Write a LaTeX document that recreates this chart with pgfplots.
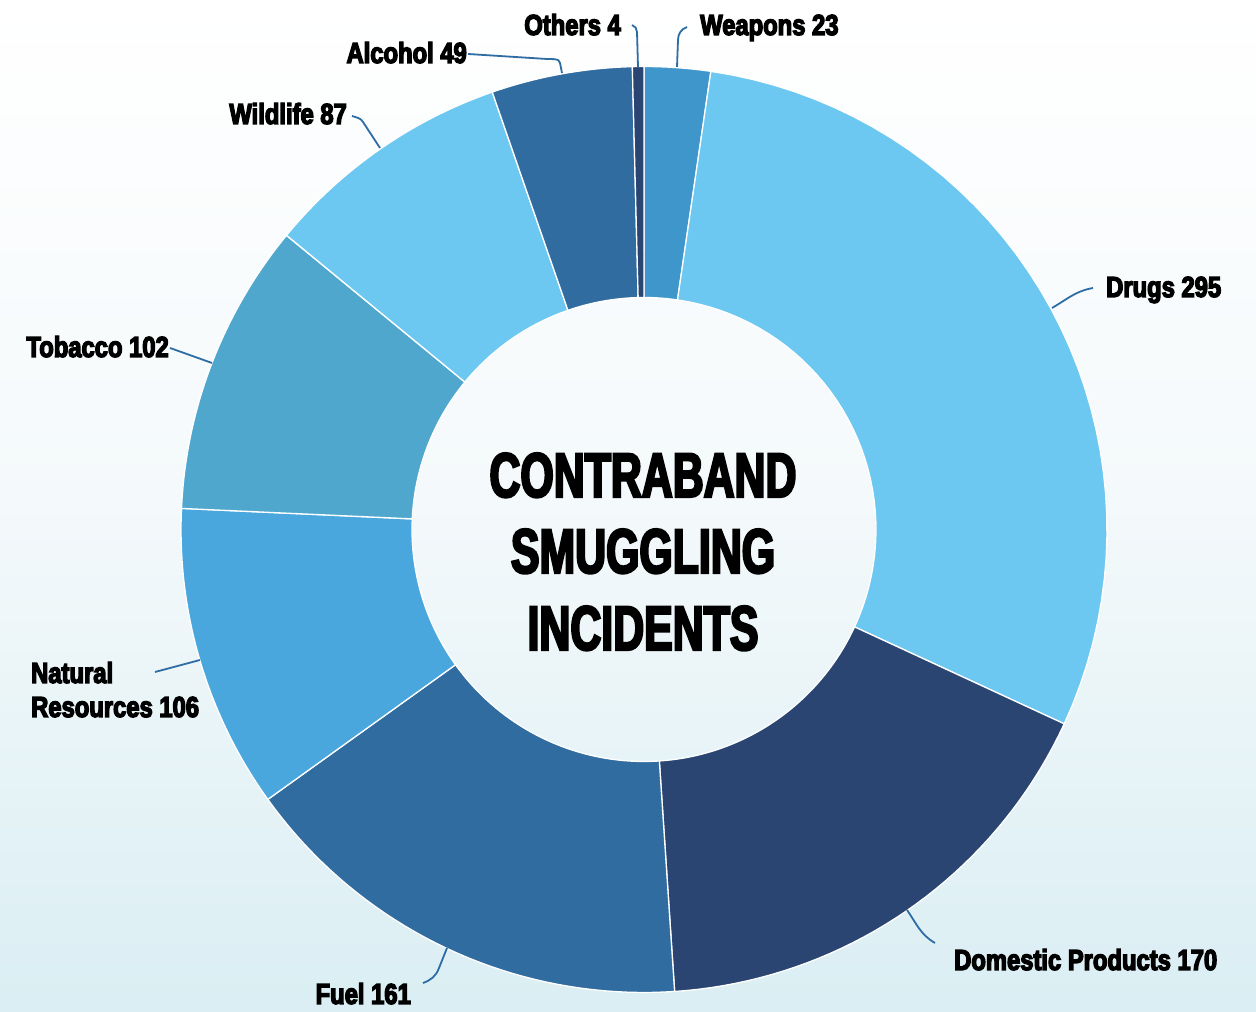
\documentclass[border=0pt]{standalone}
\usepackage{pgfplots}
\pgfplotsset{compat=1.18}
\usepackage{fontspec}
\setmainfont{Liberation Sans}
\newfontfamily\labelfont{Liberation Sans}[UprightFont={* Bold}, FakeStretch=0.82, FakeBold=4.5]
\newfontfamily\titlefont{Liberation Sans}[UprightFont={* Bold}, FakeStretch=0.68, FakeBold=3.5]
\definecolor{cWeap}{HTML}{3F96CB}
\definecolor{cDrug}{HTML}{6DC8F1}
\definecolor{cDom}{HTML}{2A4572}
\definecolor{cFuel}{HTML}{306CA0}
\definecolor{cNat}{HTML}{4AA7DE}
\definecolor{cTob}{HTML}{50A7CE}
\definecolor{cWild}{HTML}{6DC8F1}
\definecolor{cAlc}{HTML}{306CA0}
\definecolor{cOth}{HTML}{2A4572}
\definecolor{cLine}{HTML}{2E6DA4}
\definecolor{bgBottom}{RGB}{218,238,243}
% #1 = cumulative value before the slice, #2 = value, #3 = colour
\newcommand{\slice}[3]{%
  \addplot[fill=#3, draw=white, line width=1.3pt, domain=0:82, samples=83, variable=\t]
  ({644+(\t<40.5 ? 463 : (\t<81.5 ? 232 : 463))*cos(\t<40.5 ? (90-360*(#1)/997-360*(#2)/997*\t/40) : (\t<81.5 ? (90-360*(#1+#2)/997+360*(#2)/997*(\t-41)/40) : (90-360*(#1)/997)))},
   {482.5+(\t<40.5 ? 463 : (\t<81.5 ? 232 : 463))*sin(\t<40.5 ? (90-360*(#1)/997-360*(#2)/997*\t/40) : (\t<81.5 ? (90-360*(#1+#2)/997+360*(#2)/997*(\t-41)/40) : (90-360*(#1)/997)))});
}
\newcommand{\lab}[3]{\node[anchor=base #1, inner sep=0pt, font=\labelfont\fontsize{29}{34}\selectfont] at (axis cs:#2) {#3};}
\begin{document}
\begin{tikzpicture}
\fill[top color=white, bottom color=bgBottom, middle color={rgb,255:red,244;green,249;blue,251}] (0,0) rectangle (1256pt,1012pt);
\begin{axis}[
  at={(0,0)}, anchor=south west,
  width=1256pt, height=1012pt, scale only axis,
  xmin=0, xmax=1256, ymin=0, ymax=1012,
  hide axis, clip=false]
% values: Weapons 23, Drugs 295, Domestic Products 170, Fuel 161, Natural Resources 106,
% Tobacco 102, Wildlife 87, Alcohol 49, Others 4 (total 997)
\slice{0}{23}{cWeap}
\slice{23}{295}{cDrug}
\slice{318}{170}{cDom}
\slice{488}{161}{cFuel}
\slice{649}{106}{cNat}
\slice{755}{102}{cTob}
\slice{857}{87}{cWild}
\slice{944}{49}{cAlc}
\slice{993}{4}{cOth}
% leader lines (y = 1012 - pixel row)
\draw[cLine, line width=1.8pt] (axis cs:677,945) -- (axis cs:678,972) to[out=90,in=200] (axis cs:687,985);
\draw[cLine, line width=1.8pt] (axis cs:638,945) -- (axis cs:637,980) to[out=90,in=-20] (axis cs:632,987);
\draw[cLine, line width=1.8pt] (axis cs:562,939) -- (axis cs:560,949) to[out=100,in=-5] (axis cs:547,953) -- (axis cs:468,958);
\draw[cLine, line width=1.8pt] (axis cs:380,864) -- (axis cs:363,890) to[out=120,in=-20] (axis cs:352,896);
\draw[cLine, line width=1.8pt] (axis cs:212,649) -- (axis cs:170,664);
\draw[cLine, line width=1.8pt] (axis cs:200,352) -- (axis cs:155,340);
\draw[cLine, line width=1.8pt] (axis cs:447,64) -- (axis cs:439,44) to[out=-110,in=20] (axis cs:423,29);
\draw[cLine, line width=1.8pt] (axis cs:907,102) to[out=-55,in=150] (axis cs:935,69);
\draw[cLine, line width=1.8pt] (axis cs:1052,704) to[out=30,in=190] (axis cs:1093,724);
% labels
\lab{west}{700,977}{Weapons 23}
\lab{east}{621,977}{Others 4}
\lab{east}{467,949}{Alcohol 49}
\lab{east}{347,888}{Wildlife 87}
\lab{east}{169,655}{Tobacco 102}
\lab{west}{31,329}{Natural}
\lab{west}{31,295}{Resources 106}
\lab{east}{411,8}{Fuel 161}
\lab{west}{954,42}{Domestic Products 170}
\lab{west}{1106,715}{Drugs 295}
% centre title
\node[anchor=base, inner sep=0pt, font=\titlefont\fontsize{63}{72}\selectfont] at (axis cs:643,515) {CONTRABAND};
\node[anchor=base, inner sep=0pt, font=\titlefont\fontsize{63}{72}\selectfont] at (axis cs:643,439) {SMUGGLING};
\node[anchor=base, inner sep=0pt, font=\titlefont\fontsize{63}{72}\selectfont] at (axis cs:643,362) {INCIDENTS};
\end{axis}
\end{tikzpicture}
\end{document}
